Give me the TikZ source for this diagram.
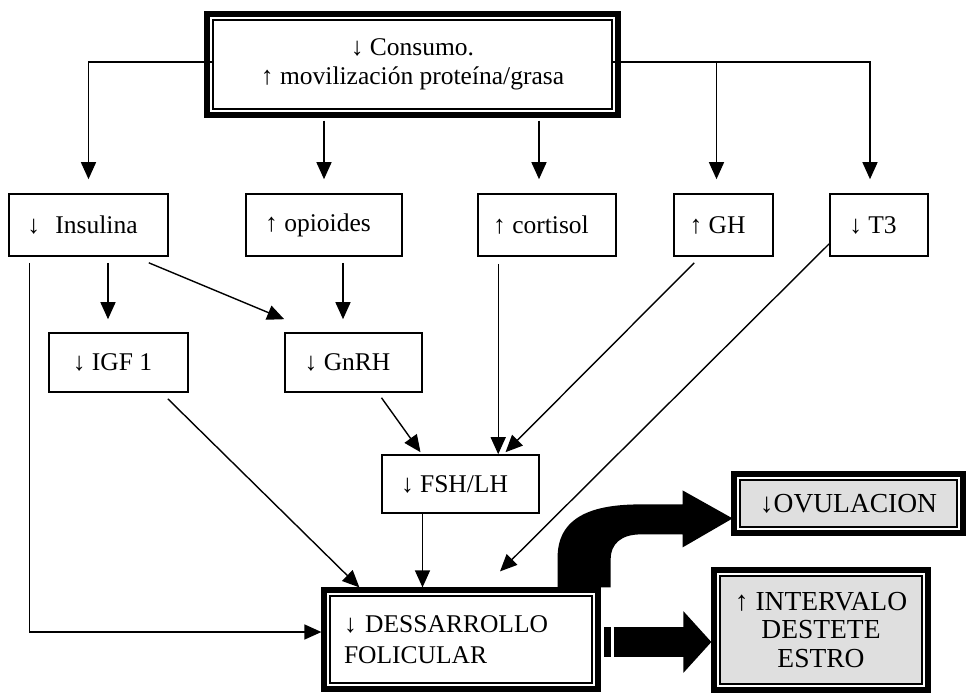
\documentclass[tikz,border=0pt]{standalone}
\usepackage{fontspec}
\setmainfont{Liberation Serif}
\usetikzlibrary{arrows.meta,calc}

\begin{document}
\begin{tikzpicture}[x=1pt,y=-1pt,
    box/.style={draw,line width=1.6pt,inner sep=0pt,
      font=\fontsize{25.5}{29}\selectfont,
      execute at end node=\hspace{12pt}},
    heavybox/.style={draw,line width=1.2pt,inner sep=0pt,align=center,
      font=\fontsize{25.5}{29}\selectfont},
    grey/.style={fill=gray!25,font=\fontsize{27.5}{28.5}\selectfont},
    arr/.style={line width=1.4pt,-{Triangle[length=17pt,width=15pt]}}]

  \useasboundingbox (0,0) rectangle (966,693);

  % boxes
  \node [heavybox,minimum width=399pt,minimum height=89pt] (top)
        at (412.5,64.5) {↓ Consumo.\\ ↑ movilización proteína/grasa};

  \node [box,minimum width=159pt,minimum height=62pt] (ins) at (88.5,225)
        {↓\hspace{9pt} Insulina};
  \node [box,minimum width=156pt,minimum height=62pt] (opi) at (324,225)
        {↑ opioides};
  \node [box,minimum width=138pt,minimum height=62pt] (cor) at (547,225)
        {↑ cortisol};
  \node [box,minimum width=99pt,minimum height=62pt] (gh) at (723.5,225)
        {↑ GH};
  \node [box,minimum width=98pt,minimum height=62pt] (t3) at (879,225)
        {↓ T3};

  \node [box,minimum width=139pt,minimum height=59pt] (igf) at (118.5,362.5)
        {↓ IGF 1};
  \node [box,minimum width=137pt,minimum height=59pt] (gnrh) at (353.5,362.5)
        {↓ GnRH};
  \node [box,minimum width=157pt,minimum height=58pt] (fsh) at (460.5,484)
        {↓ FSH/LH};

  \node [heavybox,align=left,text width=234pt,inner xsep=14pt,
         minimum height=87pt,font=\fontsize{25.5}{31}\selectfont] (dev)
        at (461,639.5) {↓ DESSARROLLO\\ FOLICULAR};

  \node [heavybox,grey,minimum width=217pt,minimum height=47pt] (ovu)
        at (848.5,503.5) {↓OVULACION};
  \node [heavybox,grey,minimum width=202pt,minimum height=108pt] (int)
        at (821,630) {↑ INTERVALO\\ DESTETE\\ ESTRO};

  % heavy outer frames
  \foreach \n in {top,dev,ovu,int}
    \draw [line width=6pt] ([shift={(-5pt,5pt)}]\n.north west)
          rectangle ([shift={(5pt,-5pt)}]\n.south east);

  % from the top box
  \coordinate (hline) at ([yshift=2.5pt]top.east);
  \draw [arr,shorten >=14pt] ([yshift=2.5pt]top.west) -| (ins.north);
  \draw [arr,shorten >=14pt] (hline) -| ([xshift=-9pt]t3.north);
  \draw [arr,shorten >=14pt] ([xshift=-7pt]gh.north |- hline)
        -- ([xshift=-7pt]gh.north);
  \draw [arr,shorten >=14pt] ([yshift=-11pt]top.south -| opi.north)
        -- (opi.north);
  \draw [arr,shorten >=14pt] ([xshift=-8pt,yshift=-11pt]top.south -| cor.north)
        -- ([xshift=-8pt]cor.north);

  % second row
  \draw [arr,shorten >=13pt] ([xshift=19.5pt,yshift=-6pt]ins.south)
        -- ([xshift=19.5pt]ins.south |- igf.north);
  \draw [arr] ([xshift=-20pt,yshift=-6pt]ins.south east)
        -- ([yshift=13pt]gnrh.north west);
  \draw [arr,shorten >=13pt] ([xshift=19pt,yshift=-6pt]opi.south)
        -- ([xshift=19pt]opi.south |- gnrh.north);

  \draw [arr] ([xshift=28pt,yshift=-5pt]gnrh.south)
        -- ([xshift=-40pt,yshift=2pt]fsh.north);
  \draw [arr] ([xshift=21pt,yshift=-7pt]cor.south west)
        -- ([xshift=21pt]cor.south west |- fsh.north);
  \draw [arr] ([xshift=21pt,yshift=-6pt]gh.south west)
        -- ([xshift=45pt,yshift=2pt]fsh.north);

  % into the follicle box
  \coordinate (t3end) at ([xshift=39pt,yshift=24pt]dev.north);
  \draw [arr] ([yshift=13pt]t3.south west) -- (t3end);
  \draw [arr] ([xshift=-21pt,yshift=-6pt]igf.south east)
        -- ([xshift=30pt,yshift=8pt]dev.north west);
  \draw [arr,shorten >=8pt] ([xshift=-38pt]fsh.south)
        -- ([xshift=-38pt]fsh.south |- dev.north);
  \draw [arr,shorten >=8pt] ([xshift=21pt,yshift=-6pt]ins.south west)
        |- ([yshift=7.5pt]dev.west);

  % block arrows
  \coordinate (ovtail) at ([xshift=-8pt,yshift=8pt]dev.north east);
  \fill [shift={(ovtail)}] (-27,0) -- (-27,-30)
        .. controls (-27,-75) and (16,-83) .. (56,-83) -- (98,-83)
        -- (98,-97) -- (148,-69) -- (98,-40) -- (98,-53) -- (56,-53)
        .. controls (36,-53) and (26,-43) .. (26,-28) -- (26,0) -- cycle;

  \coordinate (intail) at ([xshift=11pt,yshift=-2.5pt]dev.east);
  \fill (intail) ++(0,-15) rectangle ++(7,30);
  \draw [line width=30pt,-{Triangle[length=28pt,width=60pt]},
         shorten >=8pt] ([xshift=10pt]intail) -- (intail -| int.west);

\end{tikzpicture}
\end{document}
